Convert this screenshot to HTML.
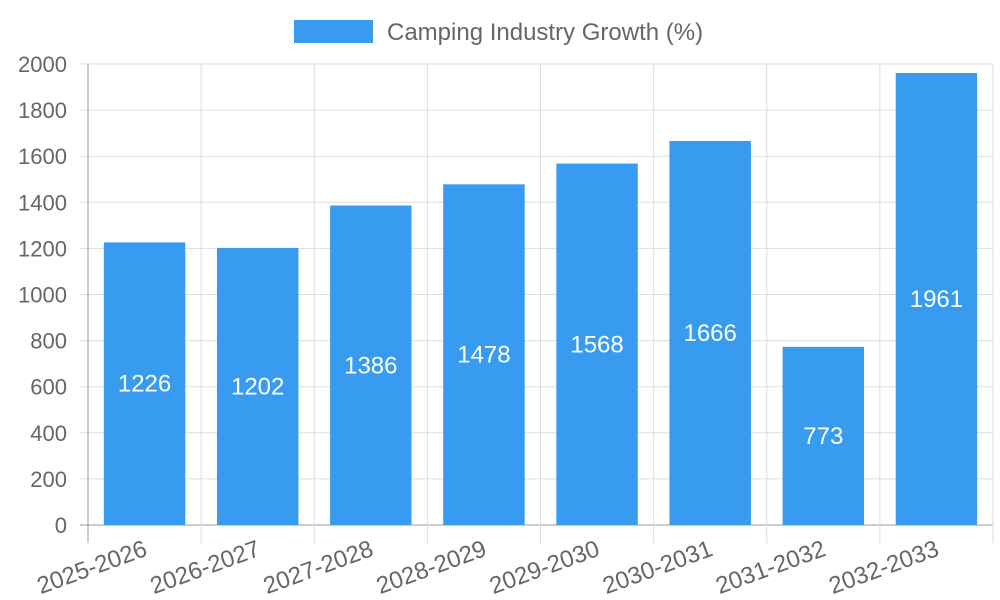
<!DOCTYPE html>
<html><head><meta charset="utf-8"><style>
html,body{margin:0;padding:0;background:#fff;}
svg{display:block;font-family:"Liberation Sans",sans-serif;}
</style></head><body>
<svg id="chart" width="1000" height="600">
<g>
<rect x="294" y="20" width="79" height="23" fill="#379cef"></rect>
<text x="387" y="40" font-size="24" fill="#666">Camping Industry Growth (%)</text>
</g>
<g id="grid"></g><g id="bars"></g><g id="labels"></g>
</svg>
<script>
const categories=["2025-2026","2026-2027","2027-2028","2028-2029","2029-2030","2030-2031","2031-2032","2032-2033"];
const values=[1226,1202,1386,1478,1568,1666,773,1961];
const yTicks=[0,200,400,600,800,1000,1200,1400,1600,1800,2000];
const L=88,R=993,T=64,B=525,yMax=2000;
const NS="http://www.w3.org/2000/svg";
const band=(R-L)/categories.length;
const xs=i=>L+band*i;
const ys=v=>B-(B-T)*v/yMax;
function mk(t,a,p){const e=document.createElementNS(NS,t);for(const k in a)e.setAttribute(k,a[k]);p.appendChild(e);return e;}
const grid=document.getElementById('grid'),bars=document.getElementById('bars'),labels=document.getElementById('labels');
yTicks.forEach(v=>{
 const y=ys(v);
 const l=mk('line',{x1:L-8,x2:R,y1:y,y2:y,stroke:v===0?'#999':'#ddd','stroke-width':1},grid);
 
 
 const t=mk('text',{x:67,y:y+8,'text-anchor':'end','font-size':22,fill:'#666'},labels);
 t.textContent=v;
 
 
});
for(let i=0;i<=categories.length;i++){
 const x=xs(i);
 const l=mk('line',{x1:x,x2:x,y1:T,y2:B+18,stroke:i===0?'#999':'#ddd','stroke-width':1},grid);
 
 
}
categories.forEach((c,i)=>{
 const bw=band*0.72,x=xs(i)+(band-bw)/2,y=ys(values[i]);
 const r=mk('rect',{x:x,y:y,width:bw,height:B-y,fill:'#379cef'},bars);
 
 
 const vt=mk('text',{x:x+bw/2,y:(y+B)/2+8,'text-anchor':'middle','font-size':24,fill:'#fff'},labels);
 vt.textContent=values[i];
 
 
 const cx=xs(i)+band/2+4,cy=B+30;
 const t=mk('text',{x:cx,y:cy,'text-anchor':'end','font-size':24,fill:'#666',transform:`rotate(-20 ${cx} ${cy})`},labels);
 t.textContent=c;
 
 
});
</script>
</body></html>
